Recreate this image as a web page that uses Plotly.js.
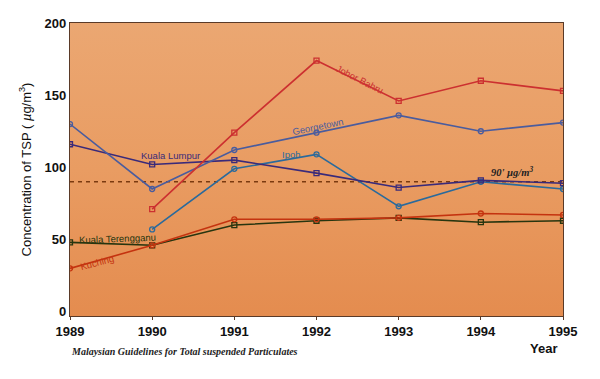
<!DOCTYPE html>
<html><head><meta charset="utf-8">
<script src="https://cdn.plot.ly/plotly-3.0.1.min.js"></script>
<style>
html,body{margin:0;padding:0;background:#fff;}
#wrap{position:relative;width:600px;height:379px;}
#bg{position:absolute;left:70px;top:23px;width:493px;height:293px;background:linear-gradient(to bottom,#eba772,#e99c62 50%,#e48c4f);}
#chart{position:absolute;left:0;top:0;width:600px;height:379px;}
</style></head>
<body><div id="wrap"><div id="bg"></div><div id="chart"></div></div>
<script>
const years = [1989, 1990, 1991, 1992, 1993, 1994, 1995];
const johorBahru = [null, 71, 124, 174, 146, 160, 153];
const georgetown = [130, 85, 112, 124, 136, 125, 131];
const kualaLumpur = [116, 102, 105, 96, 86, 91, 89];
const ipoh = [null, 57, 99, 109, 73, 90, 85];
const kuching = [30, 46, 64, 64, 65, 68, 67];
const kualaTerengganu = [48, 46, 60, 63, 65, 62, 63];
const guideline = 90;
const yTicks = [0, 50, 100, 150, 200];

function tr(name, y, color, symbol) {
  return {x: years, y: y, name: name, type: 'scatter', mode: 'lines+markers',
    line: {color: color, width: 1.6},
    marker: {symbol: symbol, size: 5, color: color, line: {color: color, width: 1.3}},
    connectgaps: false, showlegend: false, hoverinfo: 'skip'};
}
const data = [
  {x: [years[0], years[years.length-1]], y: [guideline, guideline], type: 'scatter', mode: 'lines',
   line: {color: '#7a3a10', width: 1.5, dash: '4px,4px'}, showlegend: false, hoverinfo: 'skip'},
  tr('Kuala Terengganu', kualaTerengganu, '#27350f', 'square-open'),
  tr('Kuching', kuching, '#c4330f', 'circle-open'),
  tr('Ipoh', ipoh, '#2a6a9c', 'circle-open'),
  tr('Kuala Lumpur', kualaLumpur, '#3a2a7a', 'square-open'),
  tr('Georgetown', georgetown, '#4a5c9e', 'circle-open'),
  tr('Johor Bahru', johorBahru, '#cc3030', 'square-open')
];
function ann(text, x, y, color, angle) {
  return {text: text, x: x, y: y, xref: 'x', yref: 'y', showarrow: false, textangle: angle || 0,
    font: {family: 'Liberation Sans, Arial, sans-serif', size: 9.5, color: color}};
}
const tickFont = {family: 'Liberation Sans, Arial, sans-serif', size: 13, color: '#111', weight: 600};
const layout = {
  width: 600, height: 379,
  margin: {l: 70, r: 37, t: 23, b: 63},
  paper_bgcolor: 'rgba(0,0,0,0)', plot_bgcolor: 'rgba(0,0,0,0)',
  xaxis: {range: [1989, 1995], tickvals: years, ticktext: years.map(String), showgrid: false, zeroline: false,
    showline: true, mirror: true, linecolor: '#5a3a28', linewidth: 1.2,
    ticks: 'outside', ticklen: 3, tickcolor: '#5a3a28', tickfont: tickFont},
  yaxis: {range: [-3, 200], tickvals: yTicks, showgrid: false, zeroline: false,
    showline: true, mirror: true, linecolor: '#5a3a28', linewidth: 1.2, ticks: '', tickfont: tickFont,
    title: {text: 'Concentration of TSP ( <i>µ</i>g/m<sup>3</sup>)', standoff: 10,
      font: {family: 'Liberation Sans, Arial, sans-serif', size: 13, color: '#111'}}},
  annotations: [
    ann('Kuala Lumpur', 1990.22, 108, '#3a2a7a', 0),
    ann('Johor Bahru', 1992.53, 161, '#cc3030', 27),
    ann('Georgetown', 1992.02, 128, '#4a5c9e', -12),
    ann('Ipoh', 1991.7, 109, '#2a6a9c', 0),
    ann('Kuala Terengganu', 1989.58, 50.5, '#27350f', -2),
    ann('Kuching', 1989.33, 34, '#c4330f', -15),
    {text: '<b><i>90\' µg/m<sup>3</sup></i></b>', x: 1994.38, y: 97, xref: 'x', yref: 'y', showarrow: false,
      font: {family: 'Liberation Serif, Times New Roman, serif', size: 10.5, color: '#222'}},
    {text: '<b><i>Malaysian Guidelines for Total suspended Particulates</i></b>', x: 0, xshift: -1, y: -0.095,
      xref: 'paper', yref: 'paper', xanchor: 'left', yanchor: 'top', showarrow: false,
      font: {family: 'Liberation Serif, Times New Roman, serif', size: 10, color: '#222'}},
    {text: 'Year', x: 0.96, y: -0.08, xref: 'paper', yref: 'paper', xanchor: 'center', yanchor: 'top', showarrow: false,
      font: {family: 'Liberation Sans, Arial, sans-serif', size: 13, color: '#111', weight: 600}}
  ]
};
Plotly.newPlot('chart', data, layout, {staticPlot: true, displayModeBar: false});
</script></body></html>
